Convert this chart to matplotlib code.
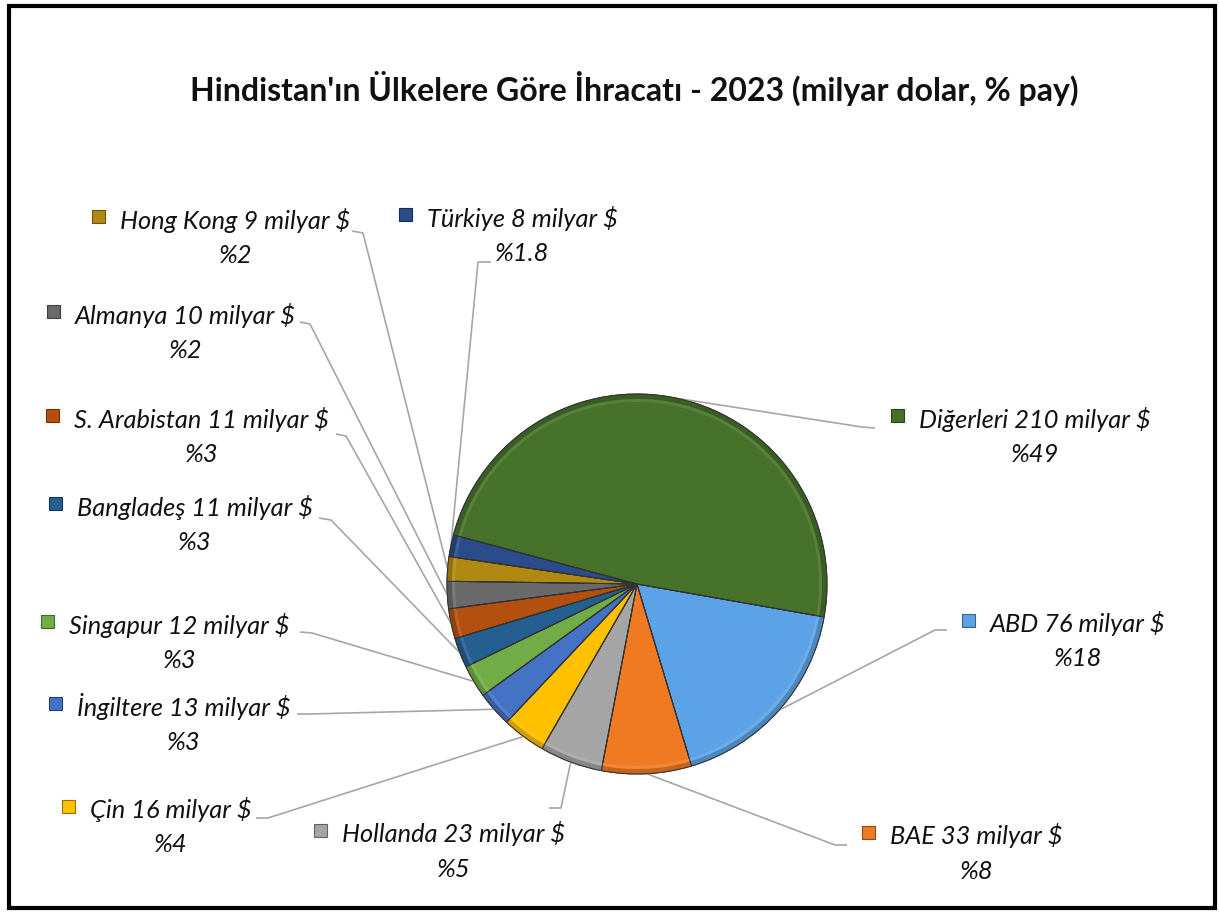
import matplotlib
matplotlib.use("Agg")
import matplotlib.pyplot as plt
from matplotlib.patches import Rectangle, Wedge
import matplotlib.colors as mcolors
import numpy as np

# data, in slice order (clockwise from the right edge)
countries = ["ABD", "BAE", "Hollanda", "Çin", "İngiltere", "Singapur", "Bangladeş",
             "S. Arabistan", "Almanya", "Hong Kong", "Türkiye", "Diğerleri"]
values = [76, 33, 23, 16, 13, 12, 11, 11, 10, 9, 8, 210]
pct_labels = ["%18", "%8", "%5", "%4", "%3", "%3", "%3", "%3", "%2", "%2", "%1.8", "%49"]
colors = ["#5BA3E6", "#F07A22", "#A5A5A5", "#FFC000", "#4472C4", "#70AD47", "#255E91",
          "#B4500F", "#6A6A6A", "#B08A10", "#2A4C8A", "#467229"]

title = "Hindistan'ın Ülkelere Göre İhracatı - 2023 (milyar dolar, % pay)"

W, H = 1219, 913
# label layout in image pixels: marker x, first line y, text-end anchor, line elbow
label_pos = {
    "ABD":          (968, 624, (947, 630), (935, 630)),
    "BAE":          (868, 836, (847, 845), (835, 845)),
    "Hollanda":     (320, 834, (549, 808), (561, 808)),
    "Çin":          (68, 810, (256, 818), (268, 818)),
    "İngiltere":    (55, 707, (297, 714), (309, 714)),
    "Singapur":     (47, 625, (300, 632), (312, 633)),
    "Bangladeş":    (55, 507, (319, 518), (331, 520)),
    "S. Arabistan": (52, 419, (336, 434), (346, 436)),
    "Almanya":      (53, 315, (300, 322), (310, 324)),
    "Hong Kong":    (98, 220, (352, 231), (363, 233)),
    "Türkiye":      (405, 218, (491, 262), (478, 262)),
    "Diğerleri":    (897, 419, (875, 428), (862, 427)),
}

cx, cy, R = 637, 584, 190


def fy(y):
    return H - y


def shade(c, f):
    r, g, b = mcolors.to_rgb(c)
    if f < 1:
        return (r * f, g * f, b * f)
    return (r + (1 - r) * (f - 1), g + (1 - g) * (f - 1), b + (1 - b) * (f - 1))


fig = plt.figure(figsize=(W / 100, H / 100), dpi=100)
ax = fig.add_axes([0, 0, 1, 1])

wedges, _ = ax.pie(values, colors=colors, startangle=-10, counterclock=False,
                   center=(cx, fy(cy)), radius=R,
                   wedgeprops=dict(edgecolor="#333333", linewidth=0.7))
ax.set_xlim(0, W)
ax.set_ylim(0, H)
ax.set_aspect("equal")
ax.axis("off")

# simple bevel look: darker outer rim, faint light band inside it
for w, c in zip(wedges, colors):
    t1, t2 = w.theta1, w.theta2
    ax.add_patch(Wedge((cx, fy(cy)), R, t1, t2, width=5, facecolor=shade(c, 0.82),
                       edgecolor="none", zorder=3))
    ax.add_patch(Wedge((cx, fy(cy)), R - 5, t1, t2, width=3, facecolor=shade(c, 1.1),
                       edgecolor="none", zorder=3))
    ax.add_patch(Wedge((cx, fy(cy)), R, t1, t2, facecolor="none",
                       edgecolor="#333333", lw=0.7, zorder=3))

# leader lines and labels
for w, name, val, pct, c in zip(wedges, countries, values, pct_labels, colors):
    mid = np.deg2rad((w.theta1 + w.theta2) / 2)
    px, py = cx + R * np.cos(mid), fy(cy) + R * np.sin(mid)
    mx, ty, end, elbow = label_pos[name]
    ax.plot([px, elbow[0], end[0]], [py, fy(elbow[1]), fy(end[1])],
            color="#A6A6A6", lw=1.2, zorder=2, solid_capstyle="butt")
    ax.add_patch(Rectangle((mx - 6, fy(ty) - 3), 13, 13, facecolor=c,
                           edgecolor=shade(c, 0.6), lw=0.8, zorder=4))
    t = ax.text(mx + 22, fy(ty), f"{name} {val} milyar $", fontsize=18.3,
                family="Lato", style="italic", ha="left", va="center", color="#111111")
    fig.canvas.draw()
    bb = t.get_window_extent()
    xc = (bb.x0 + bb.x1) / 2
    ax.text(xc, fy(ty) - 35, pct, fontsize=18.3, family="Lato", style="italic",
            ha="center", va="center", color="#111111")

ax.text(634, fy(88), title, fontsize=23, family="Lato", weight="bold",
        ha="center", va="center", color="#111111")

# chart frame
ax.add_patch(Rectangle((9, fy(908)), 1206, 902, fill=False, edgecolor="black",
                       lw=3, zorder=5))

fig.savefig("out.png", dpi=100)
